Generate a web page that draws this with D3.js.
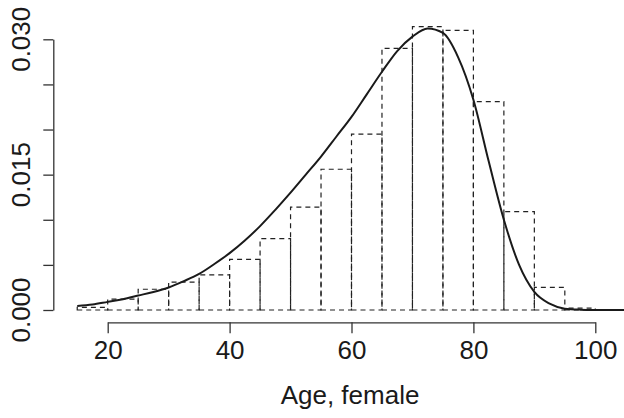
<!DOCTYPE html>
<html>
<head>
<meta charset="utf-8">
<script src="https://cdn.jsdelivr.net/npm/d3@7"></script>
<style>
  html, body { margin: 0; padding: 0; background: #fff; }
  svg { display: block; font-family: "Liberation Sans", Arial, Helvetica, sans-serif; }
</style>
</head>
<body>
<div id="chart"></div>
<script>
// histogram bins (left edges, width 5) and their density heights
const binStarts = [15, 20, 25, 30, 35, 40, 45, 50, 55, 60, 65, 70, 75, 80, 85, 90, 95];
const binDensity = [0.0003, 0.0012, 0.0023, 0.0031, 0.0039, 0.0056, 0.0079, 0.0114, 0.0156,
                    0.0195, 0.0290, 0.0314, 0.0310, 0.0231, 0.0109, 0.0025, 0.0002];
const binWidth = 5;

// fitted density curve
const curveAge = [15, 17.5, 20, 22.5, 25, 27.5, 30, 32.5, 35, 37.5, 40, 42.5, 45, 47.5, 50,
                  52.5, 55, 57.5, 60, 62.5, 65, 67.5, 70, 72.5, 75, 77.5, 80, 82.5, 85,
                  87.5, 90, 92.5, 95, 97.5, 100, 105];
const curveDensity = [0.00045, 0.0006, 0.0009, 0.0012, 0.0016, 0.0020, 0.0025, 0.0032, 0.0040,
                      0.0051, 0.0063, 0.0077, 0.0093, 0.0111, 0.0130, 0.0150, 0.0170, 0.0192,
                      0.0214, 0.0239, 0.0264, 0.0287, 0.0303, 0.0312, 0.0307, 0.0280, 0.0233,
                      0.0165, 0.0100, 0.0050, 0.0020, 0.0007, 0.00015, 0.00004, 0.00001, 0];

const xTicks = [20, 40, 60, 80, 100];
const yTicks = [0, 0.005, 0.010, 0.015, 0.020, 0.025, 0.030];
const yLabels = [0, 0.015, 0.030];

const width = 624, height = 418;
const svg = d3.select("#chart").append("svg")
  .attr("width", width)
  .attr("height", height);

const x = d3.scaleLinear().domain([20, 100]).range([107.7, 595.3]);
const y = d3.scaleLinear().domain([0, 0.03]).range([310, 39.3]);

// --- bars (dashed rectangles) ---
svg.append("g")
  .selectAll("path")
  .data(binStarts.map((s, i) => ({ x0: s, x1: s + binWidth, v: binDensity[i] })))
  .join("path")
  .attr("d", d => {
    const p = d3.path();
    p.moveTo(x(d.x0), y(0));
    p.lineTo(x(d.x1), y(0));
    p.lineTo(x(d.x1), y(d.v));
    p.lineTo(x(d.x0), y(d.v));
    p.closePath();
    return p.toString();
  })
  .attr("fill", "none")
  .attr("stroke", "#222")
  .attr("stroke-width", 1.2)
  .attr("stroke-dasharray", "5,4");

// --- density curve ---
const line = d3.line()
  .x(d => x(d[0]))
  .y(d => y(d[1]))
  .curve(d3.curveMonotoneX);

svg.append("path")
  .datum(curveAge.map((a, i) => [a, curveDensity[i]]))
  .attr("d", line)
  .attr("fill", "none")
  .attr("stroke", "#1a1a1a")
  .attr("stroke-width", 2);

// --- x axis ---
const xAxis = svg.append("g")
  .attr("transform", "translate(0,322.3)")
  .call(d3.axisBottom(x).tickValues(xTicks).tickSize(11).tickSizeOuter(0).tickPadding(7));
xAxis.selectAll("path, line").attr("stroke", "#333").attr("stroke-width", 1.3);
xAxis.selectAll("text")
  .attr("font-size", "26px")
  .attr("fill", "#1a1a1a")
  .style("font-family", "'Liberation Sans', Arial, sans-serif");

// --- y axis ---
const yAxis = svg.append("g")
  .attr("transform", "translate(53.3,0)")
  .call(d3.axisLeft(y).tickValues(yTicks).tickSize(10).tickSizeOuter(0).tickFormat(""));
yAxis.selectAll("path, line").attr("stroke", "#333").attr("stroke-width", 1.3);

svg.append("g")
  .selectAll("text")
  .data(yLabels)
  .join("text")
  .attr("transform", d => `translate(30,${y(d)}) rotate(-90)`)
  .attr("text-anchor", "middle")
  .attr("font-size", "26px")
  .attr("fill", "#1a1a1a")
  .text(d => d3.format(".3f")(d));

// --- x label ---
svg.append("text")
  .attr("x", 350)
  .attr("y", 404)
  .attr("text-anchor", "middle")
  .attr("font-size", "26px")
  .attr("fill", "#1a1a1a")
  .text("Age, female");
</script>
</body>
</html>
